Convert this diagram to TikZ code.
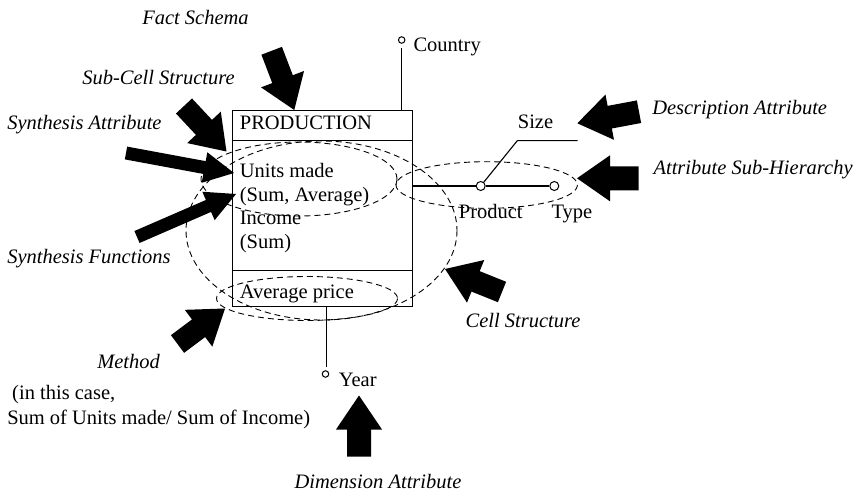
\documentclass[tikz,border=0pt]{standalone}
\usepackage{fontspec}
\setmainfont{Liberation Serif}
\usetikzlibrary{calc}

% Filled block arrow from #1 (tail) to #2 (tip):
% #3 half shaft width, #4 half head width, #5 head length
\newcommand{\blockarrow}[5]{%
  \coordinate (ba-base) at ($(#2)!#5!(#1)$);
  \fill (#2)
    -- ($(ba-base)!#4!90:(#2)$)
    -- ($(ba-base)!#3!90:(#2)$)
    -- ($(#1)!#3!90:(#2)$)
    -- ($(#1)!#3!-90:(#2)$)
    -- ($(ba-base)!#3!-90:(#2)$)
    -- ($(ba-base)!#4!-90:(#2)$)
    -- cycle;
}

\begin{document}
\begin{tikzpicture}[x=1pt, y=-1pt, line width=1.1pt,
  txt/.style={anchor=base west, inner sep=0pt, font=\fontsize{20.5}{24}\selectfont},
  note/.style={txt, font=\fontsize{20.5}{24}\selectfont\itshape},
  dot/.style={circle, draw, fill=white, inner sep=0pt, minimum size=6.5pt, line width=1pt},
  bigdot/.style={dot, minimum size=9pt},
  group/.style={draw, dashed, dash pattern=on 6pt off 4pt, line width=0.9pt}]

\useasboundingbox (0,0) rectangle (857,492);

% ---- fact box ----
\node[draw, anchor=north west, inner sep=0pt, minimum width=180.3pt,
      minimum height=195.7pt] (fact) at (231.7,110) {};
\draw ($(fact.north west)+(0,30.7)$) -- ($(fact.north east)+(0,30.7)$);
\draw ($(fact.north west)+(0,160.7)$) -- ($(fact.north east)+(0,160.7)$);

\node[txt] (title)  at (239.3,129.5) {PRODUCTION};
\node[txt] (units)  at (239.3,177.3) {Units made};
\node[txt] (unitsf) at (239.3,201.0) {(Sum, Average)};
\node[txt] (income) at (239.3,224.7) {Income};
\node[txt] (incf)   at (239.3,248.4) {(Sum)};
\node[txt] (avg)    at (239.3,298.0) {Average price};

% ---- dimension attributes ----
\node[dot] (country) at (401.7,40) {};
\coordinate (country-stem) at (401.7,48);
\draw (country-stem) -- (country-stem |- fact.north);
\node[txt] (country-l) at (413,52) {Country};

\node[dot] (year) at (325.5,374) {};
\coordinate (year-stem) at (326.7,366.7);
\draw (year-stem |- fact.south) -- (year-stem);
\node[txt] (year-l) at (338.3,386.7) {Year};

\node[bigdot] (product) at (480.7,186) {};
\node[bigdot] (type) at (554.3,186) {};
\draw (fact.east |- product) -- (product) -- (type);
\coordinate (size-bend) at (517.3,140.7);
\coordinate (size-end) at (577.7,140.7);
\draw (product) -- (size-bend) -- (size-end);
\node[txt] (size-l)    at (517.3,129)   {Size};
\node[txt] (product-l) at (458.3,218.3) {Product};
\node[txt] (type-l)    at (551,218.3)   {Type};

% ---- dashed groupings ----
\draw[group] (321.5,230.5) ellipse [x radius=135.5, y radius=89.5];
\draw[group] (299,179) ellipse [x radius=98, y radius=37];
\draw[group] (307,298.5) ellipse [x radius=90.5, y radius=22];
\draw[group] (486.7,185) ellipse [x radius=90.7, y radius=23.3];

% ---- annotations ----
\node[note] (n-fact)   at (141.7,25)   {Fact Schema};
\node[note] (n-sub)    at (81.7,85)    {Sub-Cell Structure};
\node[note] (n-sattr)  at (6.7,130)    {Synthesis Attribute};
\node[note] (n-sfun)   at (6.7,263.3)  {Synthesis Functions};
\node[note] (n-meth)   at (96.7,368.3) {Method};
\node[txt]  (n-meth2)  at (11.7,399.5) {(in this case,};
\node[txt]  (n-meth3)  at (6.7,424.3)  {Sum of Units made/ Sum of Income)};
\node[note, anchor=base] (n-cell) at (523,327) {Cell Structure};
\node[note, anchor=base] (n-dim)  at (378,488) {Dimension Attribute};
\node[note] (n-desc)   at (651.7,115)  {Description Attribute};
\node[note] (n-hier)   at (653,175)    {Attribute Sub-Hierarchy};

% ---- pointer arrows ----
\coordinate (a1t) at (271.7,50.8);  \coordinate (a1h) at (294.3,110);
\coordinate (a2t) at (184,106);     \coordinate (a2h) at (226.5,151.5);
\coordinate (a3t) at (126,153);     \coordinate (a3h) at (234,173);
\coordinate (a4t) at (137,237);     \coordinate (a4h) at (236,194);
\coordinate (a5t) at (177.5,344);   \coordinate (a5h) at (225,308.5);
\coordinate (a6t) at (359,456.5);   \coordinate (a6h) at (359,395.5);
\coordinate (a7t) at (502,292);     \coordinate (a7h) at (445,269);
\coordinate (a8t) at (639,111.7);   \coordinate (a8h) at (577.3,123.3);
\coordinate (a9t) at (638.5,178.3); \coordinate (a9h) at (577,178.3);

\blockarrow{a1t}{a1h}{11pt}{23pt}{33pt}
\blockarrow{a2t}{a2h}{11pt}{23pt}{33pt}
\blockarrow{a3t}{a3h}{6.5pt}{15.5pt}{30pt}
\blockarrow{a4t}{a4h}{6.5pt}{15.5pt}{30pt}
\blockarrow{a5t}{a5h}{11pt}{23pt}{33pt}
\blockarrow{a6t}{a6h}{12pt}{23pt}{34pt}
\blockarrow{a7t}{a7h}{11pt}{23pt}{33pt}
\blockarrow{a8t}{a8h}{11.5pt}{23pt}{33pt}
\blockarrow{a9t}{a9h}{12pt}{23pt}{33pt}

\end{tikzpicture}
\end{document}
